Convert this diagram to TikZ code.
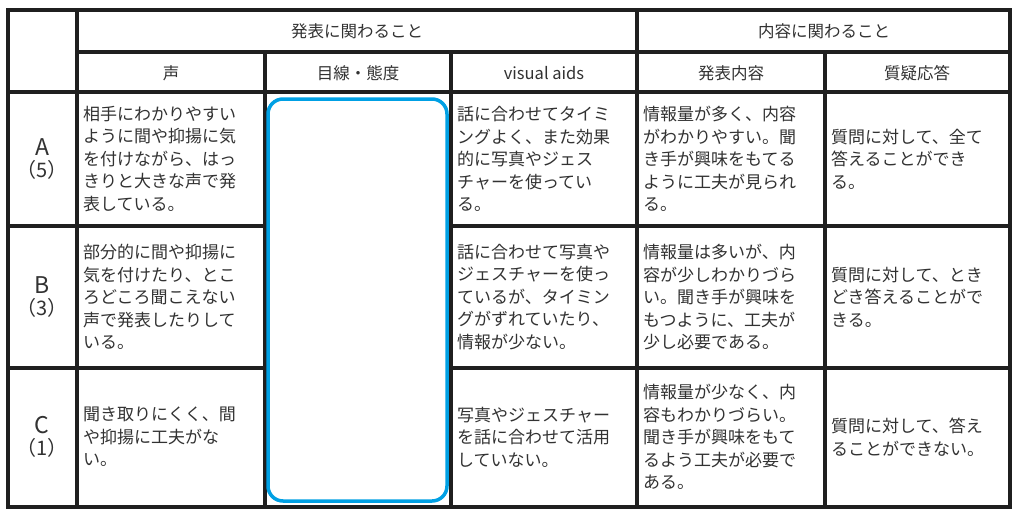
\documentclass[tikz,border=0pt]{standalone}
\usepackage{fontspec}
\setmainfont{Noto Sans CJK JP}
\definecolor{txt}{RGB}{50,50,50}
\definecolor{aqua}{RGB}{0,160,228}
\begin{document}
\begin{tikzpicture}[x=1pt,y=-1pt,
  grid/.style={line width=3.5pt,color=black!88},
  cell/.style={anchor=west,align=left,font=\fontsize{17}{22.5}\selectfont,text=txt,inner sep=0pt},
  head/.style={font=\fontsize{16.5}{18}\selectfont,text=txt,inner sep=0pt},
  grade/.style={align=center,font=\fontsize{23}{24}\selectfont,text=txt,inner sep=0pt}]
\useasboundingbox[fill=white] (0,0) rectangle (1018,515);
% grid
\draw[grid] (8,10) rectangle (1010,507);
\draw[grid] (77,10) -- (77,507);
\draw[grid] (637,10) -- (637,507);
\draw[grid] (77,52) -- (1010,52);
\draw[grid] (8,92) -- (1010,92);
\draw[grid] (265,52) -- (265,507);
\draw[grid] (451,52) -- (451,507);
\draw[grid] (825,52) -- (825,507);
\draw[grid] (8,226) -- (1010,226);
\draw[grid] (8,368) -- (1010,368);
% blue box
\draw[aqua,line width=3.5pt,rounded corners=15pt,fill=white] (268,99) rectangle (447,501);
% headers
\node[head] (h1) at (357,31) {発表に関わること};
\node[head] (h2) at (824,31) {内容に関わること};
\node[head] (c1) at (171,73) {声};
\node[head] (c2) at (358,73) {目線・態度};
\node[head] (c3) at (544,73) {visual aids};
\node[head] (c4) at (731,73) {発表内容};
\node[head] (c5) at (917,73) {質疑応答};
% grades
\node[grade] (ga) at (42,159) {A\\[-2pt]{\fontsize{20}{22}\selectfont（5）}};
\node[grade] (gb) at (42,297) {B\\[-2pt]{\fontsize{20}{22}\selectfont（3）}};
\node[grade] (gc) at (42,437) {C\\[-2pt]{\fontsize{20}{22}\selectfont（1）}};
% row A
\node[cell] (a1) at (83,159) {相手にわかりやすい\\ように間や抑揚に気\\を付けながら、はっ\\きりと大きな声で発\\表している。};
\node[cell] (a3) at (457,159) {話に合わせてタイミ\\ングよく、また効果\\的に写真やジェス\\チャーを使ってい\\る。};
\node[cell] (a4) at (643,159) {情報量が多く、内容\\がわかりやすい。聞\\き手が興味をもてる\\ように工夫が見られ\\る。};
\node[cell] (a5) at (831,159) {質問に対して、全て\\答えることができ\\る。};
% row B
\node[cell] (b1) at (83,297) {部分的に間や抑揚に\\気を付けたり、とこ\\ろどころ聞こえない\\声で発表したりして\\いる。};
\node[cell] (b3) at (457,297) {話に合わせて写真や\\ジェスチャーを使っ\\ているが、タイミン\\グがずれていたり、\\情報が少ない。};
\node[cell] (b4) at (643,297) {情報量は多いが、内\\容が少しわかりづら\\い。聞き手が興味を\\もつように、工夫が\\少し必要である。};
\node[cell] (b5) at (831,297) {質問に対して、とき\\どき答えることがで\\きる。};
% row C
\node[cell] (k1) at (83,437) {聞き取りにくく、間\\や抑揚に工夫がな\\い。};
\node[cell] (k3) at (457,437) {写真やジェスチャー\\を話に合わせて活用\\していない。};
\node[cell] (k4) at (643,437) {情報量が少なく、内\\容もわかりづらい。\\聞き手が興味をもて\\るよう工夫が必要で\\ある。};
\node[cell] (k5) at (831,437) {質問に対して、答え\\ることができない。};
\end{tikzpicture}
\end{document}
